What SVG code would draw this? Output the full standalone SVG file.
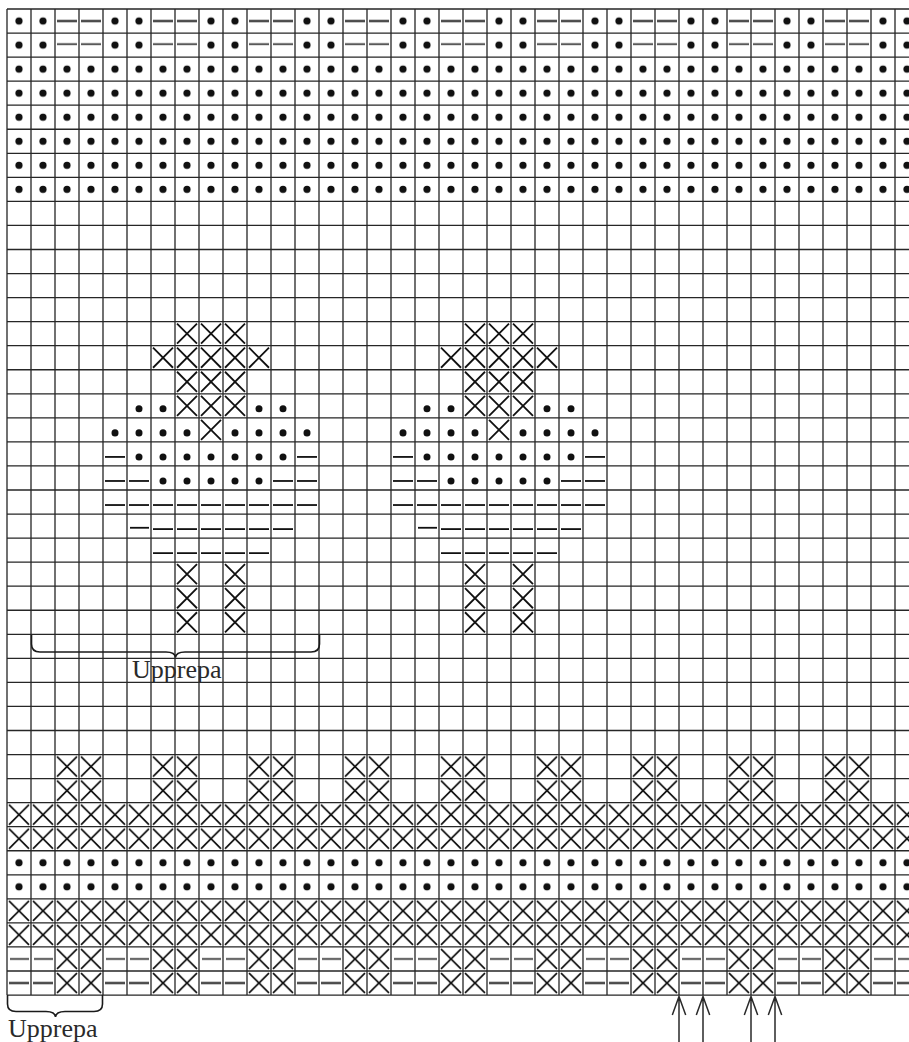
<svg xmlns="http://www.w3.org/2000/svg" width="909" height="1042" viewBox="0 0 909 1042">
<style>
.grid{fill:none;stroke:#262626;stroke-width:1.3}
.g{fill:#111;stroke:#111;stroke-width:1.8}
.lbl{font-family:"Liberation Serif","Times New Roman",serif;font-size:26px;fill:#2a2a2a}
.brace{fill:none;stroke:#1a1a1a;stroke-width:1.6}
.arrow{fill:none;stroke:#2a2a2a;stroke-width:1.5}
</style>
<defs>
<circle id="md" cx="12" cy="15" r="3.5" stroke="none"/>
<path id="mm" d="M2,15H22" fill="none"/>
<path id="x" d="M2,2L22,22M22,2L2,22" fill="none"/>
<pattern id="pDD0" patternUnits="userSpaceOnUse" width="96" height="24">
<circle cx="12" cy="12" r="3.6" fill="#111"/><circle cx="36" cy="12" r="3.6" fill="#111"/>
<path d="M50,12H70M74,12H94" stroke="#111" stroke-width="1.9"/>
</pattern>
<pattern id="pDD1" patternUnits="userSpaceOnUse" width="96" height="24">
<circle cx="12" cy="12" r="3.6" fill="#111"/><circle cx="36" cy="12" r="3.6" fill="#111"/>
<path d="M50,11H70M74,11H94" stroke="#111" stroke-width="1.4"/>
</pattern>
<pattern id="pD" patternUnits="userSpaceOnUse" width="24" height="24">
<circle cx="12" cy="12" r="3.6" fill="#111"/>
</pattern>
<pattern id="pX" patternUnits="userSpaceOnUse" width="24" height="24">
<path d="M2,2L22,22M22,2L2,22" stroke="#111" stroke-width="1.8"/>
</pattern>
<pattern id="pXX" patternUnits="userSpaceOnUse" width="96" height="24">
<path d="M50,2L70,22M70,2L50,22M74,2L94,22M94,2L74,22" stroke="#111" stroke-width="1.8"/>
</pattern>
<pattern id="pMX0" patternUnits="userSpaceOnUse" width="96" height="24">
<path d="M2,12H22M26,12H46" stroke="#111" stroke-width="1.9"/>
<path d="M50,2L70,22M70,2L50,22M74,2L94,22M94,2L74,22" stroke="#111" stroke-width="1.8"/>
</pattern>
<pattern id="pMX1" patternUnits="userSpaceOnUse" width="96" height="24">
<path d="M3,12H22M27,12H46" stroke="#111" stroke-width="1.4"/>
<path d="M50,2L70,22M70,2L50,22M74,2L94,22M94,2L74,22" stroke="#111" stroke-width="1.8"/>
</pattern>
<g id="motif" class="g">
<use href="#x" x="168" y="312"/><use href="#x" x="192" y="312"/><use href="#x" x="216" y="312"/>
<use href="#x" x="144" y="336"/><use href="#x" x="168" y="336"/><use href="#x" x="192" y="336"/><use href="#x" x="216" y="336"/><use href="#x" x="240" y="336"/>
<use href="#x" x="168" y="360"/><use href="#x" x="192" y="360"/><use href="#x" x="216" y="360"/>
<use href="#md" x="120" y="384"/><use href="#md" x="144" y="384"/><use href="#x" x="168" y="384"/><use href="#x" x="192" y="384"/><use href="#x" x="216" y="384"/><use href="#md" x="240" y="384"/><use href="#md" x="264" y="384"/>
<use href="#md" x="96" y="408"/><use href="#md" x="120" y="408"/><use href="#md" x="144" y="408"/><use href="#md" x="168" y="408"/><use href="#x" x="192" y="408"/><use href="#md" x="216" y="408"/><use href="#md" x="240" y="408"/><use href="#md" x="264" y="408"/><use href="#md" x="288" y="408"/>
<use href="#mm" x="96" y="432"/><use href="#md" x="120" y="432"/><use href="#md" x="144" y="432"/><use href="#md" x="168" y="432"/><use href="#md" x="192" y="432"/><use href="#md" x="216" y="432"/><use href="#md" x="240" y="432"/><use href="#md" x="264" y="432"/><use href="#mm" x="288" y="432"/>
<use href="#mm" x="96" y="456"/><use href="#mm" x="120" y="456"/><use href="#md" x="144" y="456"/><use href="#md" x="168" y="456"/><use href="#md" x="192" y="456"/><use href="#md" x="216" y="456"/><use href="#md" x="240" y="456"/><use href="#mm" x="264" y="456"/><use href="#mm" x="288" y="456"/>
<use href="#mm" x="96" y="480"/><use href="#mm" x="120" y="480"/><use href="#mm" x="144" y="480"/><use href="#mm" x="168" y="480"/><use href="#mm" x="192" y="480"/><use href="#mm" x="216" y="480"/><use href="#mm" x="240" y="480"/><use href="#mm" x="264" y="480"/><use href="#mm" x="288" y="480"/>
<path d="M123,517.7H142" fill="none"/><use href="#mm" x="144" y="504"/><use href="#mm" x="168" y="504"/><use href="#mm" x="192" y="504"/><use href="#mm" x="216" y="504"/><use href="#mm" x="240" y="504"/><use href="#mm" x="264" y="504"/>
<use href="#mm" x="144" y="528"/><use href="#mm" x="168" y="528"/><use href="#mm" x="192" y="528"/><use href="#mm" x="216" y="528"/><use href="#mm" x="240" y="528"/>
<use href="#x" x="168" y="552"/><use href="#x" x="216" y="552"/>
<use href="#x" x="168" y="576"/><use href="#x" x="216" y="576"/>
<use href="#x" x="168" y="600"/><use href="#x" x="216" y="600"/>
</g>
</defs>
<rect width="909" height="1042" fill="#ffffff"/>
<g id="chart" transform="translate(7,9) scale(1,1.00208)">
<g id="rows">
<rect x="0" y="0" width="902" height="24" fill="url(#pDD0)"/>
<rect x="0" y="24" width="902" height="24" fill="url(#pDD1)"/>
<rect x="0" y="48" width="902" height="144" fill="url(#pD)"/>
<rect x="0" y="744" width="902" height="48" fill="url(#pXX)"/>
<rect x="0" y="792" width="902" height="48" fill="url(#pX)"/>
<rect x="0" y="840" width="902" height="48" fill="url(#pD)"/>
<rect x="0" y="888" width="902" height="48" fill="url(#pX)"/>
<rect x="0" y="936" width="902" height="24" fill="url(#pMX1)"/>
<rect x="0" y="960" width="902" height="24" fill="url(#pMX0)"/>
</g>
<g id="motif-1"><use href="#motif" x="0" y="0"/></g>
<g id="motif-2"><use href="#motif" x="288" y="0"/></g>
<g id="grid">
<path class="grid" d="M0 0V984M24 0V984M48 0V984M72 0V984M96 0V984M120 0V984M144 0V984M168 0V984M192 0V984M216 0V984M240 0V984M264 0V984M288 0V984M312 0V984M336 0V984M360 0V984M384 0V984M408 0V984M432 0V984M456 0V984M480 0V984M504 0V984M528 0V984M552 0V984M576 0V984M600 0V984M624 0V984M648 0V984M672 0V984M696 0V984M720 0V984M744 0V984M768 0V984M792 0V984M816 0V984M840 0V984M864 0V984M888 0V984"/>
<path class="grid" d="M0 0H902M0 24H902M0 48H902M0 72H902M0 96H902M0 120H902M0 144H902M0 168H902M0 192H902M0 216H902M0 240H902M0 264H902M0 288H902M0 312H902M0 336H902M0 360H902M0 384H902M0 408H902M0 432H902M0 456H902M0 480H902M0 504H902M0 528H902M0 552H902M0 576H902M0 600H902M0 624H902M0 648H902M0 672H902M0 696H902M0 720H902M0 744H902M0 768H902M0 792H902M0 816H902M0 840H902M0 864H902M0 888H902M0 912H902M0 936H902M0 960H902M0 984H902"/>
</g>
</g>
<g id="repeat-top">
<path class="brace" d="M31.5,635V644Q31.5,652 40,652H166Q175,652 175.5,657.5Q176,652 185,652H311Q319.5,652 319.5,644V635"/>
<text class="lbl" x="132" y="678">Upprepa</text>
</g>
<g id="repeat-bottom">
<path class="brace" d="M7.5,995V1004Q7.5,1011.5 16,1011.5H46Q55,1011.5 55.5,1017Q56,1011.5 65,1011.5H94Q102.5,1011.5 102.5,1004V995"/>
<text class="lbl" x="8" y="1036.5">Upprepa</text>
</g>
<g id="connectors">
<path class="arrow" d="M679,996.5V1042M672.3,1015L679,996.5L685.7,1015"/>
<path class="arrow" d="M703,996.5V1042M696.3,1015L703,996.5L709.7,1015"/>
<path class="arrow" d="M751,996.5V1042M744.3,1015L751,996.5L757.7,1015"/>
<path class="arrow" d="M775,996.5V1042M768.3,1015L775,996.5L781.7,1015"/>
</g>
</svg>
